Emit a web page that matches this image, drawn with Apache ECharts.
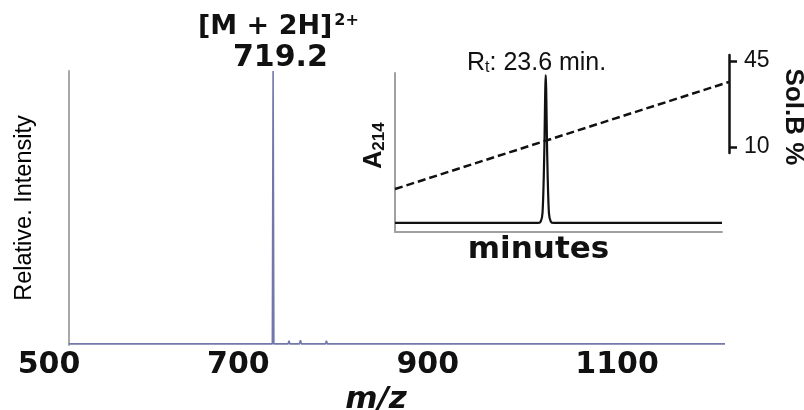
<!DOCTYPE html>
<html>
<head>
<meta charset="utf-8">
<script src="https://cdn.jsdelivr.net/npm/echarts@6/dist/echarts.min.js"></script>
<style>html,body{margin:0;padding:0;background:#fff}#c{width:804px;height:410px}</style>
</head>
<body>
<div id="c"></div>
<script>
// Mass spectrum (m/z vs relative intensity, %)
const mzValues = [521, 735.9, 736.7, 737.5, 752.5, 753.5, 754.5, 757, 758, 759, 764.6, 765.6, 766.6, 792, 793, 794, 1214];
const intensityValues = [0.4, 0.4, 100, 0.4, 0.4, 1.6, 0.4, 0.4, 1.1, 0.4, 0.4, 1.8, 0.4, 0.4, 1.6, 0.4, 0.4];
const mzTicks = [500, 700, 900, 1100];

// Inset chromatogram (minutes vs A214)
const timeMinutes = [0, 22.3, 22.8, 23.1, 23.35, 23.6, 23.85, 24.1, 24.4, 24.9, 51.2];
const a214Values = [5.7, 5.7, 6.5, 12, 45, 98.7, 45, 12, 6.5, 5.7, 5.7];

// Gradient (Sol.B %)
const gradientTime = [0, 52.3];
const solBValues = [-7.2, 36.5];
const solBTicks = [10, 45];

const FONT_BOLD = 'DejaVu Sans';
const FONT = 'Liberation Sans';

const chart = echarts.init(document.getElementById('c'), null, {renderer: 'canvas'});
chart.setOption({
  backgroundColor: '#ffffff',
  animation: false,
  graphic: [
    {type: 'text', left: 198, top: 13, style: {
      text: '{b|[M + 2H]}{s|2+}',
      rich: {
        b: {fontFamily: FONT_BOLD, fontWeight: 'bold', fontSize: 27, fill: '#111', lineHeight: 32},
        s: {fontFamily: FONT_BOLD, fontWeight: 'bold', fontSize: 16, fill: '#111', lineHeight: 32, padding: [0, 0, 12, 2]}
      }
    }},
    {type: 'text', left: 233, top: 43, style: {
      text: '719.2', fontFamily: FONT_BOLD, fontWeight: 'bold', fontSize: 30, fill: '#111'
    }},
    {type: 'text', left: 467, top: 50, style: {
      text: '{r|R}{t|t}{r|: 23.6 min.}',
      rich: {
        r: {fontFamily: FONT, fontSize: 25, fill: '#111', lineHeight: 26},
        t: {fontFamily: FONT, fontSize: 16, fill: '#111', lineHeight: 26, padding: [10, 0, 0, 0]}
      }
    }}
  ],
  grid: [
    {left: 49, top: 71, width: 676, height: 274, outerBoundsMode: 'none'},
    {left: 395, top: 73, width: 327, height: 159, outerBoundsMode: 'none'},
    {left: 395, top: 55, width: 334, height: 98, outerBoundsMode: 'none'}
  ],
  xAxis: [
    {gridIndex: 0, type: 'value', min: 500, max: 1214, interval: 200,
      axisLine: {show: false}, axisTick: {show: false}, splitLine: {show: false},
      axisLabel: {margin: 5, fontFamily: FONT_BOLD, fontWeight: 'bold', fontSize: 30, color: '#111',
        customValues: mzTicks, formatter: v => String(v)},
      name: 'm/z', nameLocation: 'middle', nameGap: 38,
      nameTextStyle: {fontFamily: FONT_BOLD, fontWeight: 'bold', fontStyle: 'italic', fontSize: 31, color: '#111', padding: [0, 22, 0, 0]}
    },
    {gridIndex: 1, type: 'value', min: 0, max: 51.2,
      axisLine: {show: true, onZero: false, lineStyle: {color: '#a0a0a0', width: 2}},
      axisTick: {show: false}, axisLabel: {show: false}, splitLine: {show: false},
      name: 'minutes', nameLocation: 'middle', nameGap: 2,
      nameTextStyle: {fontFamily: FONT_BOLD, fontWeight: 'bold', fontSize: 31, color: '#111', padding: [0, 40, 0, 0], verticalAlign: 'top'}
    },
    {gridIndex: 2, type: 'value', min: 0, max: 52.3, show: false}
  ],
  yAxis: [
    {gridIndex: 0, type: 'value', min: 0, max: 100, offset: -20,
      axisLine: {show: true, onZero: false, lineStyle: {color: '#a8a8a8', width: 2}},
      axisTick: {show: false}, axisLabel: {show: false}, splitLine: {show: false},
      name: 'Relative. Intensity', nameLocation: 'middle', nameGap: 32, nameRotate: 90,
      nameTextStyle: {fontFamily: FONT, fontSize: 23.5, color: '#000'}
    },
    {gridIndex: 1, type: 'value', min: 0, max: 100,
      axisLine: {show: true, onZero: false, lineStyle: {color: '#a0a0a0', width: 2}},
      axisTick: {show: false}, axisLabel: {show: false}, splitLine: {show: false},
      name: '{a|A}{s|214}', nameLocation: 'middle', nameGap: 7, nameRotate: 90,
      nameTextStyle: {padding: [0, 0, 0, 14],
        rich: {
          a: {fontFamily: FONT, fontWeight: 'bold', fontSize: 25, color: '#111', lineHeight: 28},
          s: {fontFamily: FONT, fontWeight: 'bold', fontSize: 17, color: '#111', lineHeight: 28, padding: [10, 0, 0, 0]}
        }}
    },
    {gridIndex: 2, type: 'value', position: 'right', min: 7.5, max: 47.5,
      axisLine: {show: true, onZero: false, lineStyle: {color: '#111', width: 2.5}},
      axisTick: {show: true, customValues: solBTicks, length: 8, lineStyle: {color: '#111', width: 2.5}},
      axisLabel: {customValues: solBTicks, margin: 15, fontFamily: FONT, fontSize: 23, color: '#111'},
      splitLine: {show: false},
      name: 'Sol.B %', nameLocation: 'middle', nameGap: 51, nameRotate: -90,
      nameTextStyle: {fontFamily: FONT, fontWeight: 'bold', fontSize: 26, color: '#111', padding: [0, 0, 0, 26]}
    }
  ],
  series: [
    {type: 'line', xAxisIndex: 0, yAxisIndex: 0, symbol: 'none',
      data: mzValues.map((v, i) => [v, intensityValues[i]]),
      lineStyle: {color: '#7278aa', width: 1.6}},
    {type: 'line', xAxisIndex: 1, yAxisIndex: 1, symbol: 'none', smooth: 0.3,
      data: timeMinutes.map((v, i) => [v, a214Values[i]]),
      lineStyle: {color: '#111', width: 2.2}},
    {type: 'line', xAxisIndex: 2, yAxisIndex: 2, symbol: 'none', clip: false,
      data: gradientTime.map((v, i) => [v, solBValues[i]]),
      lineStyle: {color: '#111', width: 2.5, type: [8, 4]}}
  ]
});
</script>
</body>
</html>
